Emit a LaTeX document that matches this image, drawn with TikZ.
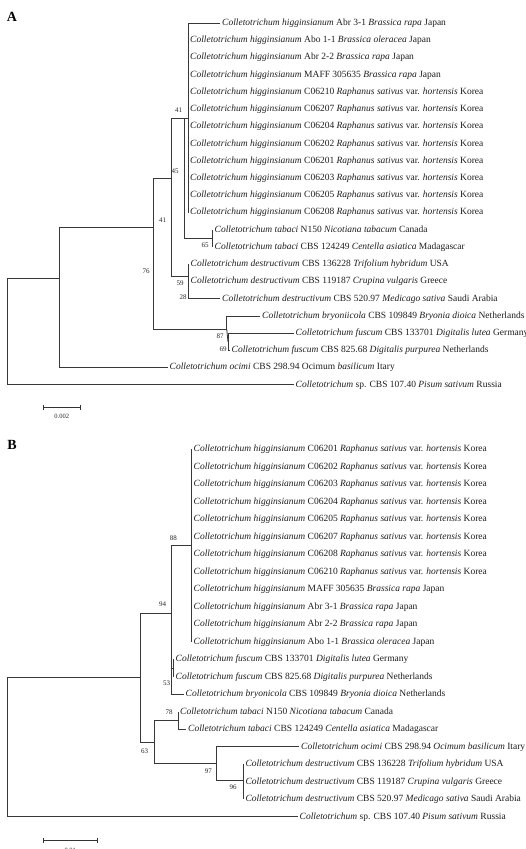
\documentclass[tikz,border=0pt]{standalone}
\usepackage{fontspec}
\setmainfont{Liberation Serif}
\newcommand{\tipfont}{\fontsize{9.5}{11}\selectfont}
\newcommand{\bsfont}{\fontsize{7}{8}\selectfont}
\newcommand{\colle}[1]{\textit{Colletotrichum #1}}
\newcommand{\hig}[1]{\colle{higginsianum} #1}
\newcommand{\kor}[1]{\hig{#1} \textit{Raphanus sativus} var. \textit{hortensis} Korea}
\tikzset{
  leaf/.style={anchor=west, inner xsep=2pt, inner ysep=0pt, text height=6.5pt, text depth=2pt, font=\tipfont, text=black!88},
  bs/.style={inner sep=0pt, font=\bsfont, text=black!85},
  br/.style={draw=black!78, line width=0.85pt},
  panel/.style={inner sep=0pt, font=\fontsize{14}{16}\selectfont\bfseries},
  sbar/.style={draw=black!80, line width=0.85pt}
}
\begin{document}
\begin{tikzpicture}[x=1pt,y=-1pt]
\useasboundingbox[fill=white] (0,0) rectangle (526,849);
% ---------------- Panel A ----------------
\node[panel] (pA) at (12,17) {A};
\node[leaf] (a0)  at (220,23.3)  {\hig{Abr 3-1} \textit{Brassica rapa} Japan};
\node[leaf] (a1)  at (188,40.5)  {\hig{Abo 1-1} \textit{Brassica oleracea} Japan};
\node[leaf] (a2)  at (188,57.7)  {\hig{Abr 2-2} \textit{Brassica rapa} Japan};
\node[leaf] (a3)  at (188,75.0)  {\hig{MAFF 305635} \textit{Brassica rapa} Japan};
\node[leaf] (a4)  at (188,92.2)  {\kor{C06210}};
\node[leaf] (a5)  at (188,109.4) {\kor{C06207}};
\node[leaf] (a6)  at (188,126.6) {\kor{C06204}};
\node[leaf] (a7)  at (188,143.8) {\kor{C06202}};
\node[leaf] (a8)  at (188,161.1) {\kor{C06201}};
\node[leaf] (a9)  at (188,178.3) {\kor{C06203}};
\node[leaf] (a10) at (188,195.5) {\kor{C06205}};
\node[leaf] (a11) at (188,212.7) {\kor{C06208}};
\node[leaf] (a12) at (212.5,229.9) {\colle{tabaci} N150 \textit{Nicotiana tabacum} Canada};
\node[leaf] (a13) at (212.5,247.2) {\colle{tabaci} CBS 124249 \textit{Centella asiatica} Madagascar};
\node[leaf] (a14) at (188.5,264.4) {\colle{destructivum} CBS 136228 \textit{Trifolium hybridum} USA};
\node[leaf] (a15) at (188.5,281.6) {\colle{destructivum} CBS 119187 \textit{Crupina vulgaris} Greece};
\node[leaf] (a16) at (220,298.8) {\colle{destructivum} CBS 520.97 \textit{Medicago sativa} Saudi Arabia};
\node[leaf] (a17) at (260,316.0) {\colle{bryoniicola} CBS 109849 \textit{Bryonia dioica} Netherlands};
\node[leaf] (a18) at (293.5,333.3) {\colle{fuscum} CBS 133701 \textit{Digitalis lutea} Germany};
\node[leaf] (a19) at (229.5,350.5) {\colle{fuscum} CBS 825.68 \textit{Digitalis purpurea} Netherlands};
\node[leaf] (a20) at (167.5,367.7) {\colle{ocimi} CBS 298.94 Ocimum \textit{basilicum} Itary};
\node[leaf] (a21) at (293.5,384.9) {\textit{Colletotrichum} sp. CBS 107.40 \textit{Pisum sativum} Russia};
% internal nodes A
\coordinate (aH)   at (188,118);
\coordinate (aT)   at (212.5,238.5);
\coordinate (aX)   at (184,118);
\coordinate (aD)   at (188.5,276);
\coordinate (a45)  at (171,178.3);
\coordinate (aF69) at (228,341.9);
\coordinate (aF87) at (226.7,329);
\coordinate (a76)  at (153.3,227.2);
\coordinate (aO)   at (59.3,278.1);
\coordinate (aR)   at (7.3,322.9);
\foreach \t in {a0,a1,a2,a3,a4,a5,a6,a7,a8,a9,a10,a11} \draw[br] (aH) |- (\t.west);
\draw[br] (aT) |- (a12.west);
\draw[br] (aT) |- (a13.west);
\draw[br] (aX) -- (aH);
\draw[br] (aX) |- (aT);
\draw[br] (aD) |- (a14.west);
\draw[br] (aD) |- (a15.west);
\draw[br] (aD) |- (a16.west);
\draw[br] (a45) |- (aX);
\draw[br] (a45) |- (aD);
\draw[br] (aF69) |- (a18.west);
\draw[br] (aF69) |- (a19.west);
\draw[br] (aF87) |- (a17.west);
\draw[br] (aF87) -- (aF69);
\draw[br] (a76) |- (a45);
\draw[br] (a76) |- (aF87);
\draw[br] (aO) |- (a76);
\draw[br] (aO) |- (a20.west);
\draw[br] (aR) |- (aO);
\draw[br] (aR) |- (a21.west);
% bootstrap A
\node[bs] (lA1) at (178.5,110) {41};
\node[bs] (lA2) at (175,171) {45};
\node[bs] (lA3) at (205,245.5) {65};
\node[bs] (lA4) at (162.5,220) {41};
\node[bs] (lA5) at (180,283.5) {59};
\node[bs] (lA6) at (183,297.3) {28};
\node[bs] (lA7) at (146,271) {76};
\node[bs] (lA8) at (220,336) {87};
\node[bs] (lA9) at (223,349.3) {69};
% scale A
\coordinate (sA1) at (43.3,407.3);
\coordinate (sA2) at (80,407.3);
\draw[sbar] (sA1) -- (sA2);
\draw[sbar] ([yshift=2.5pt]sA1) -- ([yshift=-2.5pt]sA1);
\draw[sbar] ([yshift=2.5pt]sA2) -- ([yshift=-2.5pt]sA2);
\node[bs, font=\fontsize{6.5}{7}\selectfont] (sAl) at (61.7,416.5) {0.002};
% ---------------- Panel B ----------------
\node[panel] (pB) at (12,445) {B};
\node[leaf] (b0)  at (191.5,449.3) {\kor{C06201}};
\node[leaf] (b1)  at (191.5,466.8) {\kor{C06202}};
\node[leaf] (b2)  at (191.5,484.3) {\kor{C06203}};
\node[leaf] (b3)  at (191.5,501.8) {\kor{C06204}};
\node[leaf] (b4)  at (191.5,519.3) {\kor{C06205}};
\node[leaf] (b5)  at (191.5,536.8) {\kor{C06207}};
\node[leaf] (b6)  at (191.5,554.3) {\kor{C06208}};
\node[leaf] (b7)  at (191.5,571.8) {\kor{C06210}};
\node[leaf] (b8)  at (191.5,589.3) {\hig{MAFF 305635} \textit{Brassica rapa} Japan};
\node[leaf] (b9)  at (191.5,606.8) {\hig{Abr 3-1} \textit{Brassica rapa} Japan};
\node[leaf] (b10) at (191.5,624.3) {\hig{Abr 2-2} \textit{Brassica rapa} Japan};
\node[leaf] (b11) at (191.5,641.8) {\hig{Abo 1-1} \textit{Brassica oleracea} Japan};
\node[leaf] (b12) at (173.5,659.3) {\colle{fuscum} CBS 133701 \textit{Digitalis lutea} Germany};
\node[leaf] (b13) at (173.5,676.8) {\colle{fuscum} CBS 825.68 \textit{Digitalis purpurea} Netherlands};
\node[leaf] (b14) at (183.5,694.3) {\colle{bryonicola} CBS 109849 \textit{Bryonia dioica} Netherlands};
\node[leaf] (b15) at (178,711.8) {\colle{tabaci} N150 \textit{Nicotiana tabacum} Canada};
\node[leaf] (b16) at (186,729.3) {\colle{tabaci} CBS 124249 \textit{Centella asiatica} Madagascar};
\node[leaf] (b17) at (299,746.8) {\colle{ocimi} CBS 298.94 \textit{Ocimum basilicum} Itary};
\node[leaf] (b18) at (243.3,764.3) {\colle{destructivum} CBS 136228 \textit{Trifolium hybridum} USA};
\node[leaf] (b19) at (243.3,781.8) {\colle{destructivum} CBS 119187 \textit{Crupina vulgaris} Greece};
\node[leaf] (b20) at (243.3,799.3) {\colle{destructivum} CBS 520.97 \textit{Medicago sativa} Saudi Arabia};
\node[leaf] (b21) at (297.5,816.8) {\textit{Colletotrichum} sp. CBS 107.40 \textit{Pisum sativum} Russia};
% internal nodes B
\coordinate (bH)   at (191.5,545.5);
\coordinate (bFu)  at (173,668);
\coordinate (b53)  at (171,681.2);
\coordinate (b94)  at (171,613.3);
\coordinate (bT)   at (178,720.5);
\coordinate (bD)   at (243.3,780.7);
\coordinate (b97)  at (216,763.7);
\coordinate (b63)  at (154,742.1);
\coordinate (bI)   at (140,677.7);
\coordinate (bR)   at (7.3,746.8);
\foreach \t in {b0,b1,b2,b3,b4,b5,b6,b7,b8,b9,b10,b11} \draw[br] (bH) |- (\t.west);
\draw[br] (bFu) |- (b12.west);
\draw[br] (bFu) |- (b13.west);
\draw[br] (b53) |- (bFu);
\draw[br] (b53) |- (b14.west);
\draw[br] (b94) |- (bH);
\draw[br] (b94) |- (b53);
\draw[br] (bT) |- (b15.west);
\draw[br] (bT) |- (b16.west);
\draw[br] (bD) |- (b18.west);
\draw[br] (bD) |- (b19.west);
\draw[br] (bD) |- (b20.west);
\draw[br] (b97) |- (b17.west);
\draw[br] (b97) |- (bD);
\draw[br] (b63) |- (bT);
\draw[br] (b63) |- (b97);
\draw[br] (bI) |- (b94);
\draw[br] (bI) |- (b63);
\draw[br] (bR) |- (bI);
\draw[br] (bR) |- (b21.west);
% bootstrap B
\node[bs] (lB1) at (173.3,538.3) {88};
\node[bs] (lB2) at (162.7,604) {94};
\node[bs] (lB3) at (166.5,683.3) {53};
\node[bs] (lB4) at (169,712) {78};
\node[bs] (lB5) at (144.5,751.7) {63};
\node[bs] (lB6) at (208.3,771.5) {97};
\node[bs] (lB7) at (233,787.5) {96};
% scale B
\coordinate (sB1) at (43.3,840);
\coordinate (sB2) at (97.3,840);
\draw[sbar] (sB1) -- (sB2);
\draw[sbar] ([yshift=2.5pt]sB1) -- ([yshift=-2.5pt]sB1);
\draw[sbar] ([yshift=2.5pt]sB2) -- ([yshift=-2.5pt]sB2);
\node[bs, font=\fontsize{6.5}{7}\selectfont] (sBl) at (70.3,850.5) {0.01};
\end{tikzpicture}
\end{document}
